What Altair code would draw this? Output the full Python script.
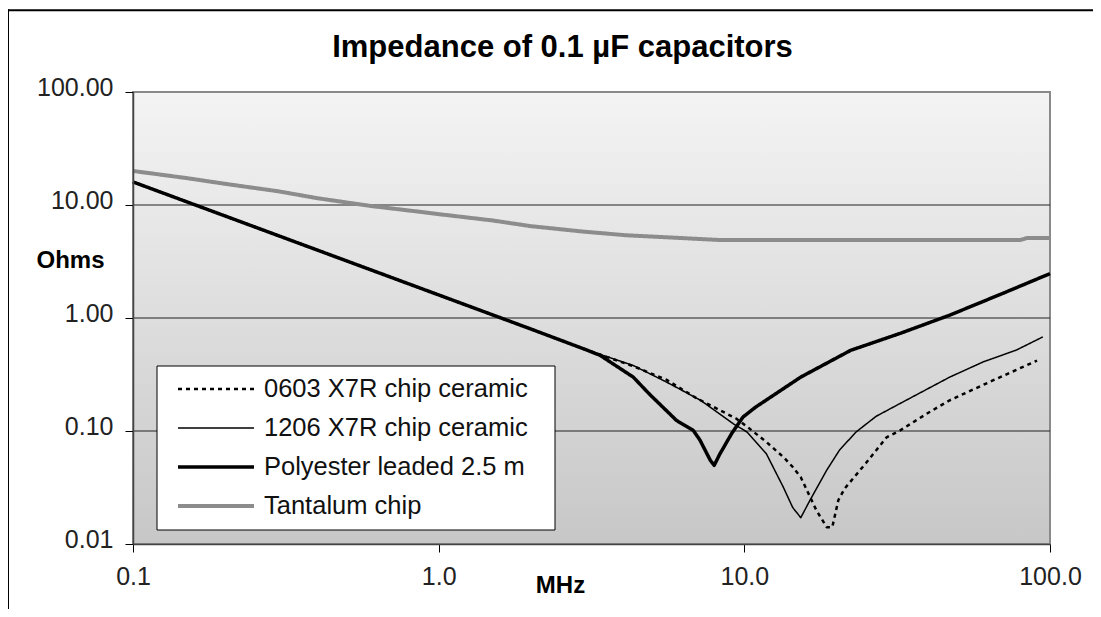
import altair as alt
import pandas as pd

# ---------------- data ----------------
series_names = ["0603 X7R chip ceramic", "1206 X7R chip ceramic",
                "Polyester leaded 2.5 m", "Tantalum chip"]

f_0603 = [0.1, 0.2, 0.5, 1.0, 2.0, 3.0, 4.33, 5.55, 7.0, 9.4, 10.4, 11.8, 13.5,
          14.4, 15.3, 17.2, 18.6, 19.4, 20.3, 21.3, 25.0, 29.2, 32.3, 40.0, 47.0,
          65.0, 90.7]
z_0603 = [16.0, 8.0, 3.2, 1.6, 0.80, 0.53, 0.375, 0.285, 0.194, 0.129, 0.105, 0.08,
          0.058, 0.048, 0.039, 0.0199, 0.0141, 0.0141, 0.0244, 0.031, 0.052, 0.088,
          0.101, 0.145, 0.187, 0.28, 0.42]

f_1206 = [0.1, 0.2, 0.5, 1.0, 2.0, 3.0, 4.33, 5.55, 7.19, 9.2, 10.2, 11.8, 13.4,
          14.4, 15.3, 16.4, 18.6, 20.5, 23.2, 27.0, 32.3, 47.0, 60.6, 77.6, 94.7]
z_1206 = [16.0, 8.0, 3.2, 1.6, 0.80, 0.53, 0.38, 0.272, 0.187, 0.116, 0.098, 0.063,
          0.032, 0.021, 0.0171, 0.0244, 0.045, 0.068, 0.098, 0.135, 0.175, 0.30,
          0.41, 0.52, 0.68]

f_poly = [0.1, 0.2, 0.5, 1.0, 2.0, 3.0, 3.37, 4.33, 4.91, 6.0, 6.81, 7.16, 7.74,
          7.97, 8.3, 9.09, 9.9, 10.9, 15.3, 22.3, 32.3, 47.0, 70.0, 100.0]
z_poly = [16.0, 8.0, 3.2, 1.6, 0.80, 0.53, 0.468, 0.30, 0.21, 0.124, 0.101, 0.083,
          0.055, 0.0497, 0.062, 0.095, 0.133, 0.163, 0.30, 0.518, 0.73, 1.06, 1.65,
          2.47]

f_tan = [0.1, 0.15, 0.2, 0.3, 0.4, 0.6, 0.87, 1.0, 1.5, 2.0, 3.0, 4.1, 5.4, 8.3,
         10.0, 20.0, 40.0, 60.0, 80.0, 84.0, 100.0]
z_tan = [20.0, 17.3, 15.4, 13.2, 11.5, 9.8, 8.7, 8.3, 7.3, 6.5, 5.8, 5.4, 5.2, 4.9,
         4.9, 4.9, 4.9, 4.9, 4.9, 5.1, 5.1]

grid_vals = [0.1, 1.0, 10.0]
x_ticks = [0.1, 1.0, 10.0, 100.0]
y_ticks = [0.01, 0.1, 1.0, 10.0, 100.0]

line_colors = ["#000000", "#000000", "#000000", "#8c8c8c"]
line_dashes = [[4, 4], [1, 0], [1, 0], [1, 0]]
line_widths = [2.5, 1.5, 3.5, 4.0]

rows = []
for name, fs, zs in zip(series_names, [f_0603, f_1206, f_poly, f_tan],
                        [z_0603, z_1206, z_poly, z_tan]):
    for i, (f, z) in enumerate(zip(fs, zs)):
        rows.append({"series": name, "f": f, "z": z, "order": i})
df = pd.DataFrame(rows)

W, H = 917, 452
FONT = "Liberation Sans"

xscale = alt.Scale(type="log", domain=[0.1, 100], nice=False)
yscale = alt.Scale(type="log", domain=[0.01, 100], nice=False)

xaxis = alt.Axis(values=x_ticks, format=".1f", title="MHz", titleFont=FONT,
                 titleFontSize=24, titleFontWeight="bold", titleColor="black",
                 titleX=427, titleY=48, titleAlign="center", titleBaseline="alphabetic",
                 labelFont=FONT, labelFontSize=25, labelColor="#222", labelPadding=12,
                 labelFlush=False, labelOverlap=False, tickSize=8, tickColor="black",
                 tickWidth=1, domainColor="#444", domainWidth=1.5, grid=False, zindex=1)
yaxis = alt.Axis(values=y_ticks, format=".2f", title="Ohms", titleFont=FONT,
                 titleFontSize=24, titleFontWeight="bold", titleColor="black",
                 titleAngle=0, titleAlign="left", titleBaseline="middle",
                 titleX=-97, titleY=168,
                 labelFont=FONT, labelFontSize=25, labelColor="#222", labelPadding=12,
                 labelOffset=-5, labelOverlap=False, labelFlush=False,
                 tickSize=8, tickColor="black", tickWidth=1,
                 domainColor="#444", domainWidth=1.5, grid=False, zindex=1)

one = pd.DataFrame({"a": [0]})

# outer chart frame: only the top and left edges are visible in the reference
frame_top = alt.Chart(one).mark_rule(color="black", strokeWidth=2).encode(
    x=alt.value(-126), x2=alt.value(1300), y=alt.value(-81.7))
frame_left = alt.Chart(one).mark_rule(color="black", strokeWidth=2).encode(
    x=alt.value(-125), y=alt.value(-82.7), y2=alt.value(800))

bg = alt.Chart(one).mark_rect(
    fill=alt.LinearGradient(gradient="linear",
                            stops=[alt.GradientStop(color="#f4f4f4", offset=0),
                                   alt.GradientStop(color="#c7c7c7", offset=1)],
                            x1=0, x2=0, y1=0, y2=1),
    stroke="#8a8a8a", strokeWidth=2).encode(
    x=alt.value(0), x2=alt.value(W), y=alt.value(0), y2=alt.value(H))

grid = alt.Chart(pd.DataFrame({"v": grid_vals})).mark_rule(
    color="#222", strokeWidth=1).encode(
    y=alt.Y("v:Q", scale=yscale, axis=yaxis))

# white box behind the legend entries
legend_box = alt.Chart(one).mark_rect(fill="white", stroke="black", strokeWidth=1).encode(
    x=alt.value(24), x2=alt.value(422), y=alt.value(274), y2=alt.value(438))

leg = alt.Legend(title=None, orient="none", legendX=24, legendY=272,
                 symbolType="stroke", symbolSize=5776, symbolOffset=9,
                 labelOffset=8, labelFont=FONT, labelFontSize=25.5, labelColor="#111",
                 labelLimit=700, padding=10, clipHeight=30, rowPadding=9)

lines = alt.Chart(df).mark_line(strokeCap="butt", strokeJoin="round").encode(
    x=alt.X("f:Q", scale=xscale, axis=xaxis),
    y=alt.Y("z:Q", scale=yscale, axis=yaxis),
    color=alt.Color("series:N", scale=alt.Scale(domain=series_names, range=line_colors),
                    legend=leg),
    strokeDash=alt.StrokeDash("series:N",
                              scale=alt.Scale(domain=series_names, range=line_dashes),
                              legend=leg),
    strokeWidth=alt.StrokeWidth("series:N",
                                scale=alt.Scale(type="ordinal", domain=series_names,
                                                range=line_widths),
                                legend=leg),
    order="order:Q",
)

chart = alt.layer(frame_top, frame_left, bg, grid, lines, legend_box).properties(
    width=W, height=H,
    autosize=alt.AutoSizeParams(type="none"),
    padding={"left": 125, "top": 84, "right": 43, "bottom": 65},
    title=alt.TitleParams("Impedance of 0.1 \u00b5F capacitors", font=FONT, fontSize=31,
                          fontWeight="bold", color="black", anchor="middle", dx=-29,
                          offset=0, dy=56),
).configure_view(stroke="transparent")

chart.save("out.html", embed_options={"renderer": "svg", "actions": False})
